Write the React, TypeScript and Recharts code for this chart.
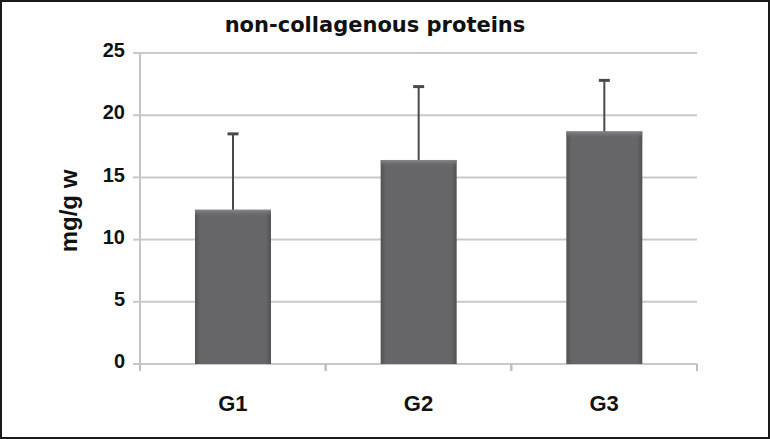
import { Bar, BarChart, CartesianGrid, XAxis, YAxis } from "recharts";

const groups = ["G1", "G2", "G3"];
const means = [12.4, 16.4, 18.7];
const sdUp = [6.1, 5.9, 4.1];
const yTicks = [0, 5, 10, 15, 20, 25];

const data = groups.map((g, i) => ({ group: g, mean: means[i], sd: sdUp[i] }));

const bold = "'Liberation Sans', Arial, Helvetica, sans-serif";

// category label plus Excel-style tick marks on the category boundaries
function CatTick(props: any) {
  const { x, y, payload } = props;
  const half = payload?.offset ?? 0;
  return (
    <g>
      <line x1={x - half} x2={x - half} y1={y} y2={y + 7} stroke="#bdbdbd" strokeWidth={2} />
      <line x1={x + half} x2={x + half} y1={y} y2={y + 7} stroke="#bdbdbd" strokeWidth={2} />
      <text x={x} y={y + 47} textAnchor="middle" fill="#111" fontSize={22} fontWeight={700} fontFamily={bold}>
        {payload.value}
      </text>
    </g>
  );
}

// bar body with Excel-ish bevel
function MeanBar(props: any) {
  const { x, y, width, height } = props;
  if (!height || height <= 0) return null;
  return (
    <g>
      <rect x={x} y={y} width={width} height={height} fill="url(#barFill)" />
      <rect x={x} y={y} width={width} height={Math.min(7, height)} fill="url(#barTop)" />
    </g>
  );
}

// upward whisker only, drawn in the stacked segment above the mean
function Whisker(props: any) {
  const { x, y, width, height } = props;
  if (!height || height <= 0) return null;
  const cx = x + width / 2;
  return (
    <g stroke="#4a4a4c" strokeWidth={2}>
      <line x1={cx} x2={cx} y1={y + height} y2={y} />
      <line x1={cx - 5.5} x2={cx + 5.5} y1={y} y2={y} strokeWidth={3} />
    </g>
  );
}

export default function App() {
  return (
    <div style={{ position: "absolute", left: 0, top: 0, width: 771, height: 439, background: "#fff" }}>
      <div style={{ position: "absolute", left: 0, top: 0, width: 770, height: 439, boxSizing: "border-box", border: "2px solid #1a1a1a" }} />
      <div style={{ position: "absolute", left: 0, top: 0 }}>
        <BarChart width={771} height={439} data={data} margin={{ top: 53, right: 74, bottom: 0, left: 0 }}>
          <defs>
            <linearGradient id="barFill" x1="0" y1="0" x2="1" y2="0">
              <stop offset="0%" stopColor="#525254" />
              <stop offset="7%" stopColor="#666668" />
              <stop offset="93%" stopColor="#666668" />
              <stop offset="100%" stopColor="#525254" />
            </linearGradient>
            <linearGradient id="barTop" x1="0" y1="0" x2="0" y2="1">
              <stop offset="0%" stopColor="#8c8c8e" stopOpacity={0.9} />
              <stop offset="100%" stopColor="#666668" stopOpacity={0} />
            </linearGradient>
          </defs>
          <CartesianGrid vertical={false} stroke="#c9c9c9" strokeWidth={2} />
          <XAxis dataKey="group" height={75} axisLine={false} tickLine={false} tickSize={0} tickMargin={0} interval={0} tick={CatTick} />
          <YAxis width={140} domain={[0, 25]} ticks={yTicks} interval={0} tickSize={7} tickMargin={8} axisLine={{ stroke: "#c4c4c4", strokeWidth: 2 }} tickLine={{ stroke: "#c9c9c9", strokeWidth: 2 }} tick={{ fill: "#111", fontSize: 20, fontWeight: 700, fontFamily: bold, dy: -3 }} />
          <Bar dataKey="mean" stackId="s" barSize={76} shape={MeanBar} isAnimationActive={false} />
          <Bar dataKey="sd" stackId="s" barSize={76} shape={Whisker} isAnimationActive={false} />
        </BarChart>
      </div>
      <div style={{ position: "absolute", left: 0, width: 750, top: 13, textAlign: "center", fontFamily: "'DejaVu Sans', sans-serif", fontWeight: 700, fontSize: 21, lineHeight: "24px", color: "#111" }}>
        non-collagenous proteins
      </div>
      <div style={{ position: "absolute", left: 69, top: 211, transform: "translate(-50%, -50%) rotate(-90deg)", whiteSpace: "nowrap", fontFamily: bold, fontWeight: 700, fontSize: 24, lineHeight: "28px", color: "#111" }}>
        mg/g w
      </div>
    </div>
  );
}
